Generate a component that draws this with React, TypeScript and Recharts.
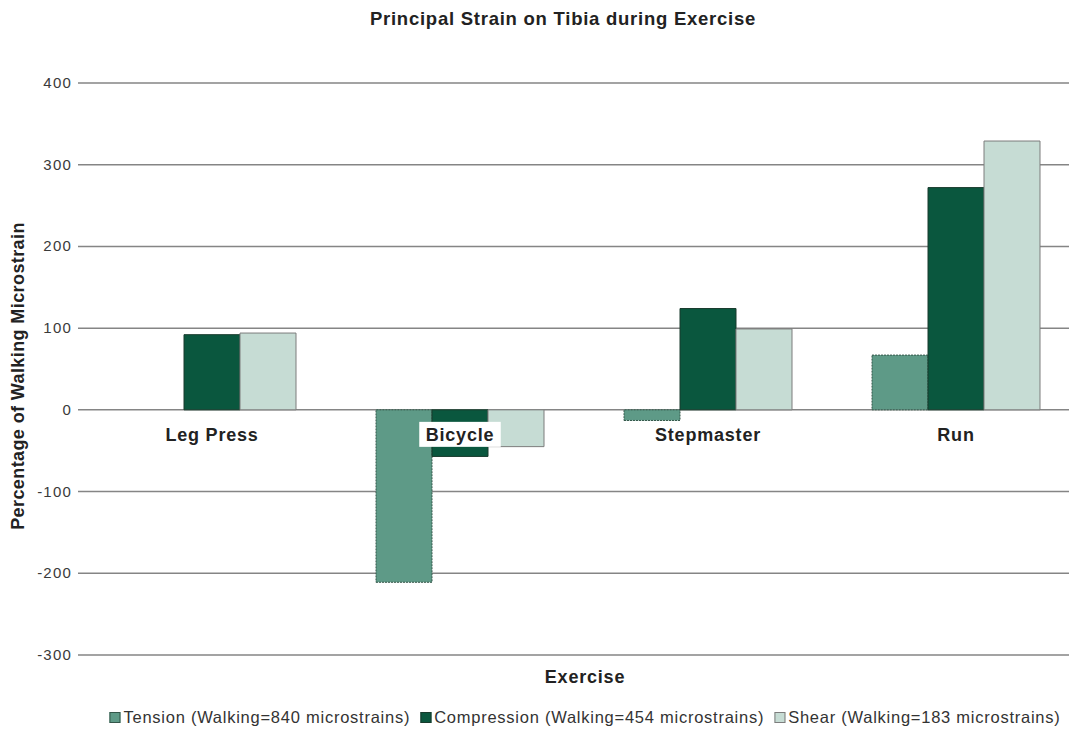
import { BarChart, Bar, XAxis, YAxis, CartesianGrid, ReferenceDot } from 'recharts';

const categories = ['Leg Press', 'Bicycle', 'Stepmaster', 'Run'];
const tension = [null, -211, -13, 67];
const compression = [92, -57, 124, 272];
const shear = [94, -45, 99, 329];
const yTicks = [-300, -200, -100, 0, 100, 200, 300, 400];

const seriesNames = [
  'Tension (Walking=840 microstrains)',
  'Compression (Walking=454 microstrains)',
  'Shear (Walking=183 microstrains)',
];
const colors = ['#5e9a87', '#0a573e', '#c6dcd4'];
const strokes = ['#34574a', '#183a2c', '#7d7d7d'];

const data = categories.map((name, i) => ({
  name,
  tension: tension[i],
  compression: compression[i],
  shear: shear[i],
}));

const font = '"Liberation Sans", Arial, sans-serif';

const YTick = (props: any) => {
  const { y, payload } = props;
  return (
    <text x={72} y={y} dy={5} textAnchor="end" fontSize={15} letterSpacing={1.2} fill="#3a3a3a" fontFamily={font}>
      {payload.value}
    </text>
  );
};

const CategoryLabel = (label: string) => (props: any) => {
  const { cx, cy } = props;
  const w = label.length * 10.5 + 8;
  return (
    <g>
      <rect x={cx - w / 2} y={cy + 12} width={w} height={25} fill="#fff" />
      <text x={cx} y={cy + 31} textAnchor="middle" fontSize={18} fontWeight="bold" letterSpacing={0.8} fill="#222" fontFamily={font}>
        {label}
      </text>
    </g>
  );
};

export default function App() {
  return (
    <div style={{ position: 'absolute', left: 0, top: 0, width: 1069, height: 731, overflow: 'hidden', background: '#fff', fontFamily: font }}>
      <div style={{ position: 'absolute', left: 563, top: 8, transform: 'translateX(-50%)', whiteSpace: 'nowrap', fontSize: 18.5, fontWeight: 'bold', letterSpacing: 0.75, color: '#222' }}>
        Principal Strain on Tibia during Exercise
      </div>
      <div style={{ position: 'absolute', left: 18, top: 376, transform: 'translate(-50%, -50%) rotate(-90deg)', whiteSpace: 'nowrap', fontSize: 18, fontWeight: 'bold', letterSpacing: 0.4, color: '#222' }}>
        Percentage of Walking Microstrain
      </div>
      <BarChart
        width={1090}
        height={731}
        data={data}
        margin={{ top: 83, right: 10, bottom: 76, left: 0 }}
        barCategoryGap={40}
        barGap={0}
        style={{ position: 'absolute', left: 0, top: 0 }}
      >
        <CartesianGrid vertical={false} stroke="#858585" strokeWidth={1.5} />
        <XAxis dataKey="name" hide padding={{ left: 10, right: 0 }} />
        <YAxis
          domain={[-300, 400]}
          ticks={yTicks}
          width={78}
          axisLine={false}
          tickLine={false}
          tick={<YTick />}
          interval={0}
        />
        <Bar dataKey="tension" name={seriesNames[0]} fill={colors[0]} stroke={strokes[0]} strokeDasharray="2 1" isAnimationActive={false} />
        <Bar dataKey="compression" name={seriesNames[1]} fill={colors[1]} stroke={strokes[1]} isAnimationActive={false} />
        <Bar dataKey="shear" name={seriesNames[2]} fill={colors[2]} stroke={strokes[2]} isAnimationActive={false} />
        {categories.map((c) => (
          <ReferenceDot key={c} x={c} y={0} r={0} shape={CategoryLabel(c)} />
        ))}
      </BarChart>
      <div style={{ position: 'absolute', left: 585, top: 667, transform: 'translateX(-50%)', whiteSpace: 'nowrap', fontSize: 18, fontWeight: 'bold', letterSpacing: 0.8, color: '#222' }}>
        Exercise
      </div>
      <div style={{ position: 'absolute', left: 585, top: 708, transform: 'translateX(-50%)', whiteSpace: 'nowrap', display: 'flex', alignItems: 'center', fontSize: 16.5, letterSpacing: 0.75, color: '#333' }}>
        {seriesNames.map((n, i) => (
          <span key={n} style={{ display: 'flex', alignItems: 'center', marginRight: i < 2 ? 10 : 0 }}>
            <span style={{ display: 'inline-block', width: 9, height: 9, background: colors[i], border: `1px solid ${strokes[i]}`, marginRight: 3 }} />
            {n}
          </span>
        ))}
      </div>
    </div>
  );
}
